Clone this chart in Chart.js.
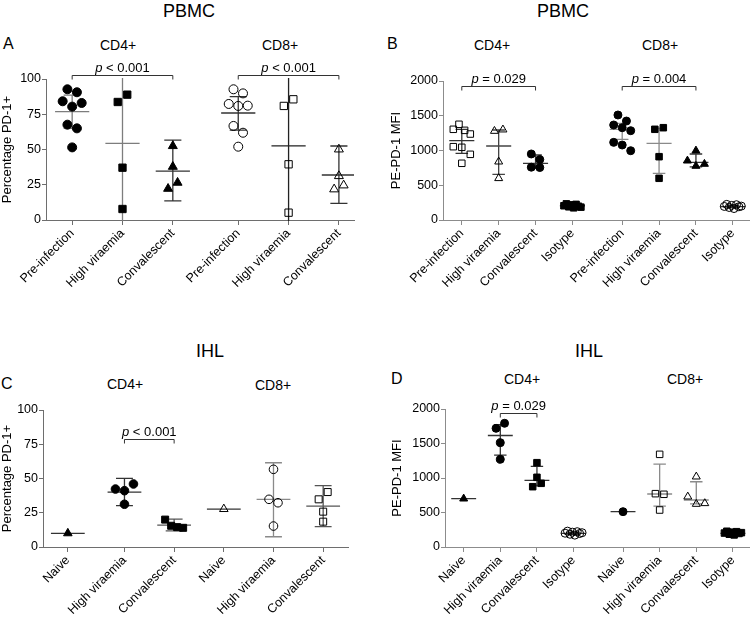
<!DOCTYPE html>
<html>
<head>
<meta charset="utf-8">
<script src="https://cdn.jsdelivr.net/npm/chart.js@4.4.1/dist/chart.umd.min.js"></script>
<style>
  body { margin: 0; background: #fff; }
  #fig { position: relative; width: 755px; height: 619px; overflow: hidden;
         font-family: "Liberation Sans", Arial, sans-serif; color: #000; }
  #fig canvas { position: absolute; }
  .t { position: absolute; white-space: nowrap; line-height: 1; }
  .big { font-size: 18px; }
  .let { font-size: 16px; }
  .sub { font-size: 14px; }
</style>
</head>
<body>
<div id="fig">
  <canvas id="chartA" width="372" height="270" style="left:0;top:55px"></canvas>
  <canvas id="chartB" width="380" height="270" style="left:375px;top:55px"></canvas>
  <canvas id="chartC" width="372" height="224" style="left:0;top:395px"></canvas>
  <canvas id="chartD" width="380" height="224" style="left:375px;top:395px"></canvas>

  <div class="t big" style="left:163px;top:2px">PBMC</div>
  <div class="t big" style="left:537px;top:2px">PBMC</div>
  <div class="t let" style="left:3px;top:36px">A</div>
  <div class="t sub" style="left:100px;top:38px">CD4+</div>
  <div class="t sub" style="left:262px;top:38px">CD8+</div>
  <div class="t let" style="left:387px;top:36px">B</div>
  <div class="t sub" style="left:474px;top:38px">CD4+</div>
  <div class="t sub" style="left:642px;top:38px">CD8+</div>

  <div class="t big" style="left:196px;top:342px">IHL</div>
  <div class="t big" style="left:575px;top:342px">IHL</div>
  <div class="t let" style="left:1px;top:376px">C</div>
  <div class="t sub" style="left:107px;top:377px">CD4+</div>
  <div class="t sub" style="left:255px;top:378px">CD8+</div>
  <div class="t let" style="left:391px;top:371px">D</div>
  <div class="t sub" style="left:504px;top:372px">CD4+</div>
  <div class="t sub" style="left:667px;top:372px">CD8+</div>
</div>
<script>
// ---- panel A: PBMC, percentage PD-1+ (mean with 95% CI)
const labelsA = ['Pre-infection', 'High viraemia', 'Convalescent', 'Pre-infection', 'High viraemia', 'Convalescent'];
const posA = [1, 2, 3, 4.3, 5.3, 6.3];
const valsA = [
  [92.7, 90.6, 84.2, 80.4, 83.0, 67.6, 65.0, 51.5],
  [83.7, 88.9, 37.1, 7.8],
  [52.5, 37.8, 22.2, 26.5],
  [92.7, 89.8, 82.3, 80.9, 81.1, 66.7, 61.9, 52.0],
  [80.9, 85.6, 39.5, 5.2],
  [50.1, 31.2, 21.8, 24.6]
];
const midA = [76.9, 54.4, 34.7, 75.9, 52.6, 31.9];
const loA = [65.0, -10, 13.5, 63.8, -10, 11.8];
const hiA = [88.6, 115, 56.7, 87.5, 115, 52.5];
const pA = ['< 0.001', '< 0.001'];
const pFromA = [0, 3];
const pToA = [2, 5];
const pLevelA = [102.5, 102.5];

// ---- panel B: PBMC, PE-PD-1 MFI (median with IQR)
const labelsB = ['Pre-infection', 'High viraemia', 'Convalescent', 'Isotype', 'Pre-infection', 'High viraemia', 'Convalescent', 'Isotype'];
const posB = [1, 2, 3, 4, 5.35, 6.35, 7.35, 8.35];
const valsB = [
  [1305, 1377, 1290, 1237, 1055, 1046, 945, 816],
  [1280, 1300, 839, 600],
  [950, 870, 760, 755],
  [205, 232, 190, 218, 175, 225, 198, 185],
  [1511, 1424, 1367, 1328, 1285, 1117, 1079, 997],
  [1305, 1328, 911, 600],
  [997, 853, 777, 806],
  [195, 225, 180, 210, 165, 220, 190, 200]
];
const midB = [1141, 1065, 816, 205, 1305, 1103, 830, 192];
const loB = [960, 657, 744, 185, 1161, 671, 765, 178];
const hiB = [1305, 1295, 935, 225, 1391, 1320, 950, 212];
const pB = ['= 0.029', '= 0.004'];
const pFromB = [0, 4];
const pToB = [2, 6];
const pLevelB = [1930, 1930];

// ---- panel C: IHL, percentage PD-1+ (mean with 95% CI)
const labelsC = ['Naive', 'High viraemia', 'Convalescent', 'Naive', 'High viraemia', 'Convalescent'];
const posC = [0.86, 2, 3, 4, 5, 6];
const valsC = [
  [10],
  [42.3, 41.1, 46.0, 31.2],
  [20.0, 15.5, 14.5, 14.0],
  [27.7],
  [56.7, 34.8, 32.3, 15.3],
  [34.8, 40.1, 25.8, 18.5]
];
const midC = [10, 40.0, 16.0, 27.7, 34.8, 29.9];
const loC = [null, 30.2, 11.7, null, 7.5, 14.8];
const hiC = [null, 50.1, 20.4, null, 61.5, 44.8];
const pC = ['< 0.001'];
const pFromC = [1];
const pToC = [2];
const pLevelC = [79];

// ---- panel D: IHL, PE-PD-1 MFI (median with IQR)
const labelsD = ['Naive', 'High viraemia', 'Convalescent', 'Isotype', 'Naive', 'High viraemia', 'Convalescent', 'Isotype'];
const posD = [1, 2, 3, 4, 5.35, 6.35, 7.35, 8.35];
const valsD = [
  [700],
  [1720, 1793, 1512, 1271],
  [1222, 1010, 874, 923],
  [200, 230, 185, 215, 172, 222, 195, 207],
  [512],
  [1343, 773, 764, 536],
  [1019, 729, 623, 633],
  [202, 228, 185, 215, 175, 222, 196, 208]
];
const midD = [700, 1616, 966, 198, 512, 768, 681, 198];
const loD = [null, 1331, 886, 185, null, 593, 625, 185];
const hiD = [null, 1775, 1169, 215, null, 1200, 946, 215];
const pD = ['= 0.029'];
const pFromD = [1];
const pToD = [2];
const pLevelD = [1945];

// marker styles
const shapeA = ['circle', 'rect', 'triangle', 'circle', 'rect', 'triangle'];
const fillA = [true, true, true, false, false, false];
const inkA = ['#7d7d7d', '#7d7d7d', '#333', '#333', '#222', '#333'];
const shapeB = ['rect', 'triangle', 'circle', 'rect', 'circle', 'rect', 'triangle', 'circle'];
const fillB = [false, false, true, true, true, true, true, false];
const inkB = ['#333', '#444', '#333', '#333', '#8a8a8a', '#8a8a8a', '#333', '#333'];
const shapeC = ['triangle', 'circle', 'rect', 'triangle', 'circle', 'rect'];
const fillC = [true, true, true, false, false, false];
const inkC = ['#333', '#333', '#555', '#333', '#8a8a8a', '#555'];
const shapeD = ['triangle', 'circle', 'rect', 'circle', 'circle', 'rect', 'triangle', 'rect'];
const fillD = [true, true, true, false, true, false, false, true];
const inkD = ['#333', '#333', '#333', '#333', '#333', '#8a8a8a', '#8a8a8a', '#333'];

const FONT = '"Liberation Sans", Arial, sans-serif';
Chart.defaults.font.family = FONT;
Chart.defaults.color = '#000';

// centre line, error bars and p-value brackets
const summaryPlugin = {
  id: 'summary',
  beforeDatasetsDraw(chart, args, o) {
    const xs = chart.scales.x, ys = chart.scales.y, ctx = chart.ctx, a = chart.chartArea;
    ctx.save();
    ctx.beginPath();
    ctx.rect(a.left, a.top - 1, a.right - a.left, a.bottom - a.top + 2);
    ctx.clip();
    ctx.lineWidth = 1.3;
    o.pos.forEach((p, i) => {
      ctx.strokeStyle = o.ink[i];
      const ym = ys.getPixelForValue(o.mid[i]);
      ctx.beginPath();
      ctx.moveTo(xs.getPixelForValue(p - 0.34), ym);
      ctx.lineTo(xs.getPixelForValue(p + 0.34), ym);
      if (o.lo[i] != null) {
        const xc = xs.getPixelForValue(p);
        const yl = ys.getPixelForValue(o.lo[i]), yh = ys.getPixelForValue(o.hi[i]);
        ctx.moveTo(xc, yl);
        ctx.lineTo(xc, yh);
        [yl, yh].forEach(yy => {
          ctx.moveTo(xs.getPixelForValue(p - 0.17), yy);
          ctx.lineTo(xs.getPixelForValue(p + 0.17), yy);
        });
      }
      ctx.stroke();
    });
    ctx.restore();
  },
  afterDatasetsDraw(chart, args, o) {
    const xs = chart.scales.x, ys = chart.scales.y, ctx = chart.ctx;
    ctx.save();
    ctx.strokeStyle = '#333';
    ctx.lineWidth = 1;
    ctx.fillStyle = '#000';
    ctx.textBaseline = 'alphabetic';
    o.pText.forEach((txt, i) => {
      const x1 = xs.getPixelForValue(o.pos[o.pFrom[i]]);
      const x2 = xs.getPixelForValue(o.pos[o.pTo[i]]);
      const y = Math.round(ys.getPixelForValue(o.pLevel[i])) + 0.5;
      ctx.beginPath();
      ctx.moveTo(x1, y + 4);
      ctx.lineTo(x1, y);
      ctx.lineTo(x2, y);
      ctx.lineTo(x2, y + 4);
      ctx.stroke();
      ctx.font = 'italic 13px ' + FONT;
      const w1 = ctx.measureText('p ').width;
      ctx.font = '13px ' + FONT;
      const w2 = ctx.measureText(txt).width;
      const x0 = (x1 + x2) / 2 - (w1 + w2) / 2;
      ctx.font = 'italic 13px ' + FONT;
      ctx.fillText('p ', x0, y - 4);
      ctx.font = '13px ' + FONT;
      ctx.fillText(txt, x0 + w1, y - 4);
    });
    ctx.restore();
  }
};

// spread points that share a row, like a scatter dot plot
function swarm(chart, vals, pos, dia) {
  const xs = chart.scales.x, ys = chart.scales.y;
  chart.data.datasets.forEach((ds, g) => {
    const cx = xs.getPixelForValue(pos[g]);
    const rows = [];
    let row = null;
    vals[g].forEach((v, k) => {
      const py = ys.getPixelForValue(v);
      if (row && Math.abs(py - row.y0) < dia) row.idx.push(k);
      else { row = { y0: py, idx: [k] }; rows.push(row); }
    });
    rows.forEach(r => {
      const n = r.idx.length;
      const step = n > 1 ? Math.min(dia, dia * 2 / (n - 1)) : 0;
      r.idx.forEach((k, j) => {
        ds.data[k].x = xs.getValueForPixel(cx + (j - (n - 1) / 2) * step);
      });
    });
  });
  chart.update('none');
}

function makePanel(id, c) {
  const chart = new Chart(document.getElementById(id), {
    type: 'scatter',
    data: {
      datasets: c.vals.map((v, g) => ({
        data: v.map(y => ({ x: c.pos[g], y: y })),
        pointStyle: c.shape[g],
        pointRadius: c.shape[g] === 'circle' ? c.r : c.r * 1.15,
        pointHoverRadius: c.shape[g] === 'circle' ? c.r : c.r * 1.15,
        backgroundColor: c.fill[g] ? '#000' : 'rgba(0,0,0,0)',
        borderColor: '#000',
        borderWidth: 1
      }))
    },
    options: {
      responsive: false,
      animation: false,
      events: [],
      layout: { padding: c.pad },
      plugins: {
        legend: { display: false },
        tooltip: { enabled: false },
        summary: {
          pos: c.pos, mid: c.mid, lo: c.lo, hi: c.hi, ink: c.ink,
          pText: c.pText, pFrom: c.pFrom, pTo: c.pTo, pLevel: c.pLevel
        }
      },
      scales: {
        x: {
          type: 'linear',
          min: c.xmin,
          max: c.xmax,
          afterBuildTicks: s => { s.ticks = c.pos.map(v => ({ value: v })); },
          afterFit: s => { s.height = c.xh; },
          ticks: {
            autoSkip: false, minRotation: 45, maxRotation: 45, padding: 1,
            font: { size: 12.5 }, color: '#000',
            callback: (v, i) => c.labels[i]
          },
          grid: { drawOnChartArea: false, drawTicks: true, tickLength: 5, color: c.axis },
          border: { color: c.axis, width: 1 }
        },
        y: {
          min: 0,
          max: c.ymax,
          afterFit: s => { s.width = c.yw; },
          ticks: { stepSize: c.ymax / 4, padding: 1, font: { size: 12.5 }, color: '#000',
                   callback: v => String(v) },
          grid: { drawOnChartArea: false, drawTicks: true, tickLength: 4, color: c.axis },
          border: { color: c.axis, width: 1 },
          title: { display: true, text: c.ytitle, font: { size: 13 }, color: '#000', padding: { top: c.tpad, bottom: 0 } }
        }
      }
    },
    plugins: [summaryPlugin]
  });
  swarm(chart, c.vals, c.pos, c.dia);
  return chart;
}

makePanel('chartA', {
  labels: labelsA, pos: posA, vals: valsA, mid: midA, lo: loA, hi: hiA,
  pText: pA, pFrom: pFromA, pTo: pToA, pLevel: pLevelA,
  shape: shapeA, fill: fillA, ink: inkA, axis: '#6e6e6e',
  xmin: 0.48, xmax: 6.6, ymax: 100, ytitle: 'Percentage PD-1+',
  pad: { top: 24, right: 18, left: 0, bottom: 0 }, yw: 46, xh: 105, tpad: 0, r: 4.5, dia: 9.5
});
makePanel('chartB', {
  labels: labelsB, pos: posB, vals: valsB, mid: midB, lo: loB, hi: hiB,
  pText: pB, pFrom: pFromB, pTo: pToB, pLevel: pLevelB,
  shape: shapeB, fill: fillB, ink: inkB, axis: '#8c8c8c',
  xmin: 0.49, xmax: 8.8, ymax: 2000, ytitle: 'PE-PD-1 MFI',
  pad: { top: 26, right: 3, left: 0, bottom: 0 }, yw: 68, xh: 105, tpad: 14, r: 4, dia: 8.5
});
makePanel('chartC', {
  labels: labelsC, pos: posC, vals: valsC, mid: midC, lo: loC, hi: hiC,
  pText: pC, pFrom: pFromC, pTo: pToC, pLevel: pLevelC,
  shape: shapeC, fill: fillC, ink: inkC, axis: '#6e6e6e',
  xmin: 0.36, xmax: 6.5, ymax: 100, ytitle: 'Percentage PD-1+',
  pad: { top: 15, right: 24, left: 0, bottom: 0 }, yw: 43, xh: 72, tpad: 0, r: 4.3, dia: 9
});
makePanel('chartD', {
  labels: labelsD, pos: posD, vals: valsD, mid: midD, lo: loD, hi: hiD,
  pText: pD, pFrom: pFromD, pTo: pToD, pLevel: pLevelD,
  shape: shapeD, fill: fillD, ink: inkD, axis: '#8c8c8c',
  xmin: 0.49, xmax: 8.8, ymax: 2000, ytitle: 'PE-PD-1 MFI',
  pad: { top: 14, right: 3, left: 0, bottom: 0 }, yw: 70, xh: 72, tpad: 15, r: 4, dia: 8.5
});
</script>
</body>
</html>
